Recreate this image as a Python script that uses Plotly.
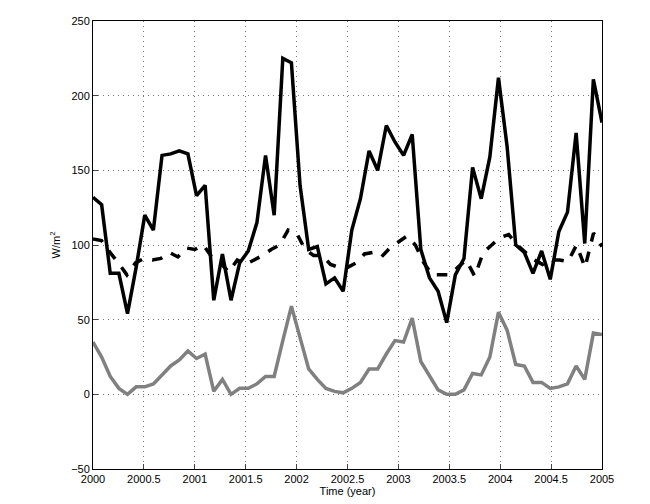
import plotly.graph_objects as go
import numpy as np

solid = [132,127,81,81,54,85,120,110,160,161,163,161,133,140,63,94,63,88,96,115,160,120,225,222,140,97,99,74,78,69,110,131,163,150,180,169,160,174,97,78,69,48,80,91,152,131,159,212,166,100,95,81,96,77,109,122,175,101,211,182]
dashed = [104,103,95,88,80,88,91,90,91,95,92,98,97,100,92,88,82,90,87,90,93,97,100,110,108,97,93,93,87,85,85,88,94,95,92,98,102,106,100,88,80,80,80,85,90,79,95,100,105,107,100,95,90,87,90,90,89,100,85,108,99]
gray = [35,25,12,4,0,5,5,7,13,19,23,29,24,27,2,10,0,4,4,7,12,12,36,59,38,17,10,4,2,1,4,8,17,17,27,36,35,51,22,12,3,0,0,3,14,13,25,55,43,20,19,8,8,4,5,7,19,10,41,40]

def xs(v):
    return np.linspace(2000, 2005, len(v))

fig = go.Figure()
fig.add_trace(go.Scatter(x=xs(solid), y=solid, mode="lines", line=dict(color="black", width=3.5)))
fig.add_trace(go.Scatter(x=xs(dashed), y=dashed, mode="lines", line=dict(color="black", width=3.5, dash="dash")))
fig.add_trace(go.Scatter(x=xs(gray), y=gray, mode="lines", line=dict(color="#808080", width=3.5)))

ax = dict(showline=True, mirror=True, linecolor="black", linewidth=1, ticks="inside", ticklen=5,
          showgrid=True, gridcolor="#777", griddash="1px,4px", gridwidth=1, zeroline=False,
          tickfont=dict(size=11, color="black"))
fig.update_layout(
    width=650, height=504, showlegend=False, plot_bgcolor="white", paper_bgcolor="white",
    margin=dict(l=85, r=56, t=7, b=43),
    font=dict(family="Liberation Sans, Arial", size=11, color="black"),
    xaxis=dict(ax, range=[2000, 2005], tickvals=[2000,2000.5,2001,2001.5,2002,2002.5,2003,2003.5,2004,2004.5,2005],
               ticktext=["2000","2000.5","2001","2001.5","2002","2002.5","2003","2003.5","2004","2004.5","2005"],
               title=dict(text="Time (year)", standoff=2, font=dict(size=11))),
    yaxis=dict(ax, range=[-50, 250], tickvals=[-50,0,50,100,150,200,250],
               title=dict(text="W/m<sup>2</sup>", standoff=8, font=dict(size=11))),
)
fig.write_html("out.html")
